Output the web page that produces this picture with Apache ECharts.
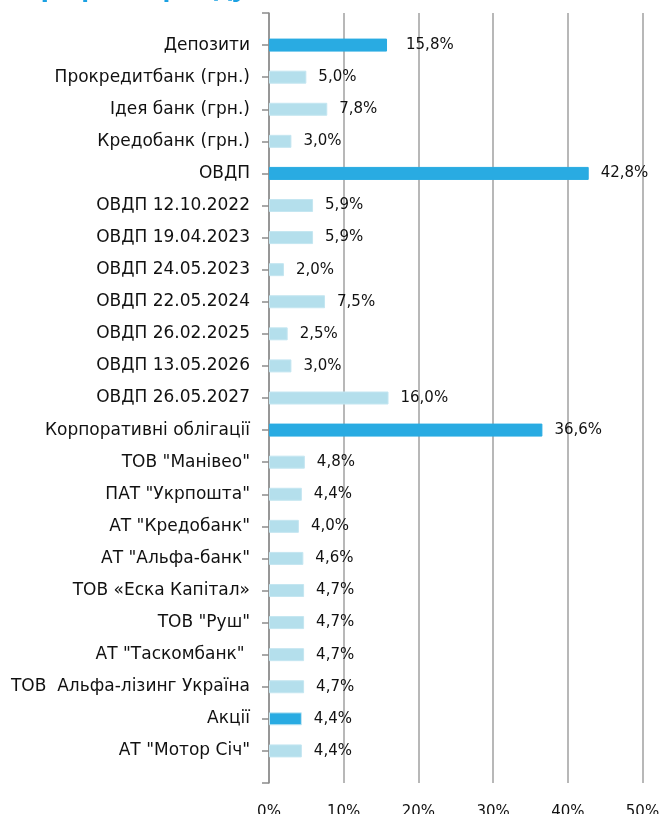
<!DOCTYPE html>
<html>
<head>
<meta charset="utf-8">
<script src="https://cdn.jsdelivr.net/npm/echarts@6/dist/echarts.min.js"></script>
<style>
  html, body { margin: 0; padding: 0; background: #fff; }
  #chart { width: 662px; height: 814px; }
</style>
</head>
<body>
<div id="chart"></div>
<script>
// categories, top to bottom (empty slots at both ends, like the original)
var categories = ['', 'Депозити', 'Прокредитбанк (грн.)', 'Ідея банк (грн.)', 'Кредобанк (грн.)', 'ОВДП',
    'ОВДП 12.10.2022', 'ОВДП 19.04.2023', 'ОВДП 24.05.2023', 'ОВДП 22.05.2024', 'ОВДП 26.02.2025',
    'ОВДП 13.05.2026', 'ОВДП 26.05.2027', 'Корпоративні облігації', 'ТОВ "Манівео"', 'ПАТ "Укрпошта"',
    'АТ "Кредобанк"', 'АТ "Альфа-банк"', 'ТОВ «Еска Капітал»', 'ТОВ "Руш"', 'АТ "Таскомбанк" ',
    'ТОВ  Альфа-лізинг Україна', 'Акції', 'АТ "Мотор Січ"', ''];
var values = [null, 15.8, 5.0, 7.8, 3.0, 42.8, 5.9, 5.9, 2.0, 7.5, 2.5, 3.0, 16.0, 36.6,
    4.8, 4.4, 4.0, 4.6, 4.7, 4.7, 4.7, 4.7, 4.4, 4.4, null];
// group rows (totals) are drawn darker
var groupRows = ['Депозити', 'ОВДП', 'Корпоративні облігації', 'Акції'];
var xTicks = [0, 10, 20, 30, 40, 50];

var dark = '#29abe2', light = '#b4dfec';
var font = 'DejaVu Sans';

var chart = echarts.init(document.getElementById('chart'));

var barData = values.map(function (v, i) {
    if (v === null) return null;
    var isGroup = groupRows.indexOf(categories[i]) >= 0;
    var item = {
        value: v,
        itemStyle: {
            color: isGroup ? dark : light,
            borderColor: isGroup ? (categories[i] === 'Акції' ? '#c4e7f3' : dark) : '#c4e6f1',
            borderWidth: 1,
            borderRadius: 0
        }
    };
    if (categories[i] === 'Депозити') item.label = { distance: 19 };
    return item;
});

var option = {
    animation: false,
    title: {
        text: 'Структура\nпортфеля фонду',
        left: 0,
        top: -72,
        textStyle: { color: '#1ba1e2', fontSize: 28, lineHeight: 36, fontWeight: 'bold', fontFamily: 'Open Sans' }
    },
    grid: { left: 269, right: 19.5, top: 13, bottom: 31, containLabel: false, outerBoundsMode: 'none' },
    xAxis: {
        type: 'value',
        min: xTicks[0],
        max: xTicks[xTicks.length - 1],
        interval: 10,
        axisLine: { show: false },
        axisTick: { show: false },
        axisLabel: {
            formatter: '{value}%',
            margin: 22,
            color: '#111',
            fontSize: 15,
            fontFamily: font
        },
        splitLine: { lineStyle: { color: '#a0a0a0', width: 1.5 } }
    },
    yAxis: {
        type: 'category',
        data: categories,
        inverse: true,
        boundaryGap: false,
        axisLine: { lineStyle: { color: '#8c8c8c', width: 1.5 } },
        axisTick: { length: 7, lineStyle: { color: '#8c8c8c', width: 1.5 } },
        axisLabel: {
            interval: 0,
            margin: 19,
            color: '#111',
            fontSize: 17,
            fontFamily: font
        },
        splitLine: { show: false }
    },
    series: [{
        type: 'bar',
        data: barData,
        barWidth: 13,
        label: {
            show: true,
            position: 'right',
            distance: 12,
            color: '#111',
            fontSize: 15,
            fontFamily: font,
            formatter: function (p) {
                return p.value.toFixed(1).replace('.', ',') + '%';
            }
        }
    }]
};

chart.setOption(option);
</script>
</body>
</html>
